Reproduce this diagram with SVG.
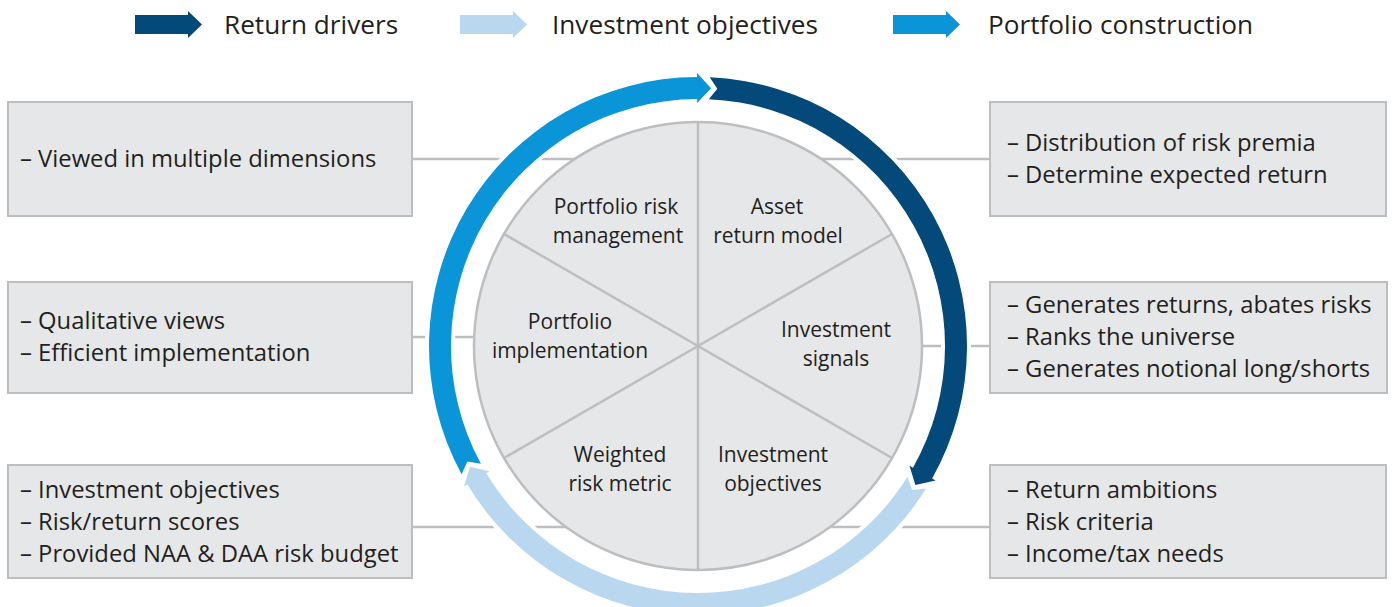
<svg xmlns="http://www.w3.org/2000/svg" width="1395" height="607" viewBox="0 0 1395 607">
<defs>
<style>
.box{fill:#e6e7e8;stroke:#bcbec0;stroke-width:2}
.conn{stroke:#bcbec0;stroke-width:2.5;fill:none}
.t{font-family:"Open Sans","Liberation Sans",sans-serif;font-size:23.8px;fill:#231f20}
.lg{font-family:"Open Sans","Liberation Sans",sans-serif;font-size:26.2px;fill:#231f20}
.pl{font-family:"Open Sans","Liberation Sans",sans-serif;font-size:21px;fill:#231f20;text-anchor:middle}
.halo{fill:none;stroke:#ffffff;stroke-width:8;stroke-linejoin:miter}
.dark{fill:#03497a}
.light{fill:#b9d8f0}
.mid{fill:#0995d8}
</style>
</defs>
<rect width="1395" height="607" fill="#ffffff"/>

<g id="legend">
<polygon class="dark" points="135,15 188,15 188,11 202,24.5 188,38 188,34 135,34"/>
<text class="lg" x="224" y="34">Return drivers</text>
<polygon class="light" points="460,15 513,15 513,11 527,24.5 513,38 513,34 460,34"/>
<text class="lg" x="552" y="34">Investment objectives</text>
<polygon class="mid" points="893,15 946,15 946,11 960,24.5 946,38 946,34 893,34"/>
<text class="lg" x="988" y="34">Portfolio construction</text>
</g>

<g id="connectors">
<line class="conn" x1="413" y1="159" x2="576" y2="159"/>
<line class="conn" x1="820" y1="159" x2="990" y2="159"/>
<line class="conn" x1="413" y1="337" x2="476" y2="337"/>
<line class="conn" x1="920" y1="346" x2="990" y2="346"/>
<line class="conn" x1="413" y1="527" x2="567" y2="527"/>
<line class="conn" x1="829" y1="527" x2="990" y2="527"/>
</g>

<g id="wheel">
<circle cx="698" cy="346" r="224" fill="#e6e7e8" stroke="#bcbec0" stroke-width="2.5"/>
<g class="conn">
<line x1="698" y1="122" x2="698" y2="570"/>
<line x1="504" y1="234" x2="892" y2="458"/>
<line x1="504" y1="458" x2="892" y2="234"/>
</g>
</g>

<g id="ring">
<path class="halo" d="M709.73,77.26 A269,269 0 0 1 932.13,478.46 L935.61,480.43 L915.37,484.98 L909.50,465.66 L912.98,467.63 A247,247 0 0 0 708.77,99.23 L717.34,88.73 Z"/>
<path class="halo" d="M926.13,488.55 A269,269 0 0 1 467.42,484.55 L463.99,486.61 L469.99,466.73 L489.71,471.15 L486.28,473.21 A247,247 0 0 0 907.47,476.89 L912.15,489.88 Z"/>
<path class="halo" d="M461.60,474.36 A269,269 0 0 1 697.06,77.00 L697.05,73.00 L711.05,88.33 L697.15,103.00 L697.14,99.00 A247,247 0 0 0 480.93,463.86 L467.31,461.52 Z"/>
<path id="arrow-return-drivers" class="dark" d="M709.73,77.26 A269,269 0 0 1 932.13,478.46 L935.61,480.43 L915.37,484.98 L909.50,465.66 L912.98,467.63 A247,247 0 0 0 708.77,99.23 L717.34,88.73 Z"/>
<path id="arrow-investment-objectives" class="light" d="M926.13,488.55 A269,269 0 0 1 467.42,484.55 L463.99,486.61 L469.99,466.73 L489.71,471.15 L486.28,473.21 A247,247 0 0 0 907.47,476.89 L912.15,489.88 Z"/>
<path id="arrow-portfolio-construction" class="mid" d="M461.60,474.36 A269,269 0 0 1 697.06,77.00 L697.05,73.00 L711.05,88.33 L697.15,103.00 L697.14,99.00 A247,247 0 0 0 480.93,463.86 L467.31,461.52 Z"/>
</g>

<g id="seg-portfolio-risk">
<text class="pl" x="616" y="214">Portfolio risk</text>
<text class="pl" x="618" y="243">management</text>
</g>
<g id="seg-asset-return">
<text class="pl" x="777" y="214">Asset</text>
<text class="pl" x="778" y="243">return model</text>
</g>
<g id="seg-portfolio-implementation">
<text class="pl" x="570" y="329">Portfolio</text>
<text class="pl" x="570" y="358">implementation</text>
</g>
<g id="seg-investment-signals">
<text class="pl" x="836" y="337">Investment</text>
<text class="pl" x="836" y="366">signals</text>
</g>
<g id="seg-weighted-risk">
<text class="pl" x="620" y="462">Weighted</text>
<text class="pl" x="620" y="491">risk metric</text>
</g>
<g id="seg-investment-objectives">
<text class="pl" x="773" y="462">Investment</text>
<text class="pl" x="773" y="491">objectives</text>
</g>

<g id="box-left-top">
<rect class="box" x="8" y="102" width="404" height="114"/>
<text class="t" x="20" y="167">– Viewed in multiple dimensions</text>
</g>
<g id="box-left-mid">
<rect class="box" x="8" y="282" width="404" height="111"/>
<text class="t" x="20" y="329">– Qualitative views</text>
<text class="t" x="20" y="361">– Efficient implementation</text>
</g>
<g id="box-left-bot">
<rect class="box" x="8" y="465" width="404" height="113"/>
<text class="t" x="20" y="498">– Investment objectives</text>
<text class="t" x="20" y="530">– Risk/return scores</text>
<text class="t" x="20" y="562">– Provided NAA &amp; DAA risk budget</text>
</g>
<g id="box-right-top">
<rect class="box" x="990" y="102" width="396" height="114"/>
<text class="t" x="1007" y="151">– Distribution of risk premia</text>
<text class="t" x="1007" y="183">– Determine expected return</text>
</g>
<g id="box-right-mid">
<rect class="box" x="990" y="282" width="397" height="111"/>
<text class="t" x="1007" y="313">– Generates returns, abates risks</text>
<text class="t" x="1007" y="345">– Ranks the universe</text>
<text class="t" x="1007" y="377">– Generates notional long/shorts</text>
</g>
<g id="box-right-bot">
<rect class="box" x="990" y="465" width="396" height="113"/>
<text class="t" x="1007" y="498">– Return ambitions</text>
<text class="t" x="1007" y="530">– Risk criteria</text>
<text class="t" x="1007" y="562">– Income/tax needs</text>
</g>
</svg>
